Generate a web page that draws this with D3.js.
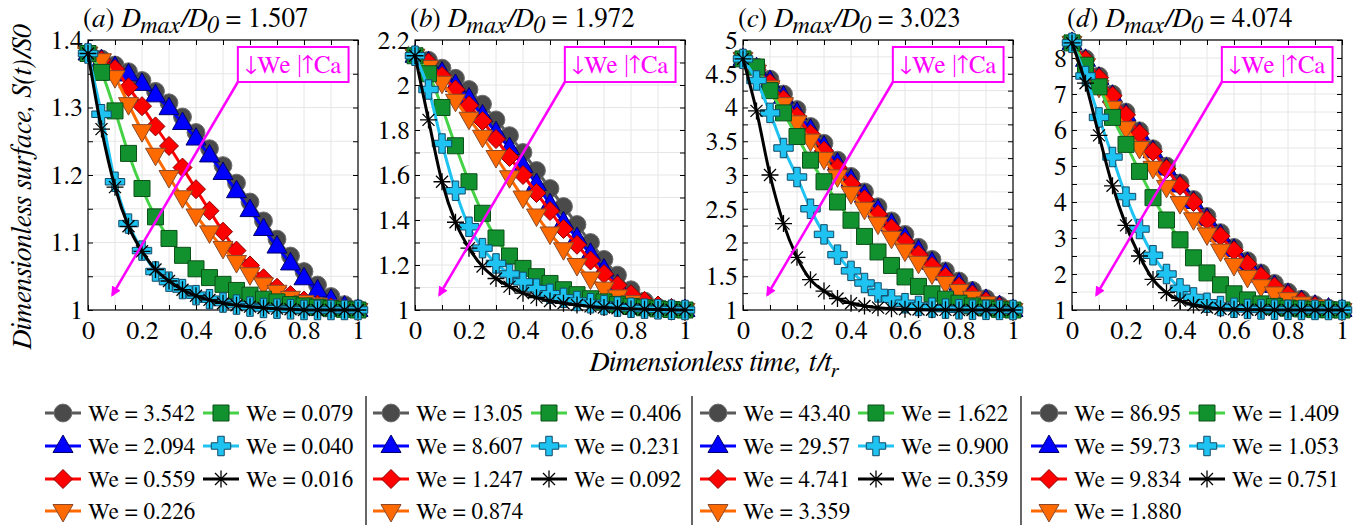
<!doctype html>
<html lang="en">
<head>
  <meta charset="utf-8">
  <title>Dimensionless surface vs time - D3</title>
  <style>
    html, body { margin: 0; padding: 0; background: #fff; }
    svg { display: block; }
  </style>
</head>
<body>
  <svg></svg>
  <script src="https://cdn.jsdelivr.net/npm/d3@7"></script>
  <script>
    const width = 1363;
    const height = 525;
    const serif = 'FreeSerif, DejaVu Serif, serif';

    // t / tr sample points
    const timeSteps = [0, 0.05, 0.1, 0.15, 0.2, 0.25, 0.3, 0.35, 0.4, 0.45, 0.5,
      0.55, 0.6, 0.65, 0.7, 0.75, 0.8, 0.85, 0.9, 0.95, 1];
    const xTickValues = [0, 0.2, 0.4, 0.6, 0.8, 1];
    const xTickLabels = ['0', '0.2', '0.4', '0.6', '0.8', '1'];

    const panelTags = ['a', 'b', 'c', 'd'];
    const diameterRatios = ['1.507', '1.972', '3.023', '4.074'];

    // y axes
    const yMaxA = 1.4, yMaxB = 2.2, yMaxC = 5, yMaxD = 8.5;
    const yTicksA = [1, 1.1, 1.2, 1.3, 1.4];
    const yTicksB = [1, 1.2, 1.4, 1.6, 1.8, 2, 2.2];
    const yTicksC = [1, 1.5, 2, 2.5, 3, 3.5, 4, 4.5, 5];
    const yTicksD = [1, 2, 3, 4, 5, 6, 7, 8];
    const yLabelsA = ['1', '1.1', '1.2', '1.3', '1.4'];
    const yLabelsB = ['1', '1.2', '1.4', '1.6', '1.8', '2', '2.2'];
    const yLabelsC = ['1', '1.5', '2', '2.5', '3', '3.5', '4', '4.5', '5'];
    const yLabelsD = ['1', '2', '3', '4', '5', '6', '7', '8'];

    // Weber numbers, one per series (order: circle, up-triangle, diamond, down-triangle, square, plus, star)
    const weA = ['3.542', '2.094', '0.559', '0.226', '0.079', '0.040', '0.016'];
    const weB = ['13.05', '8.607', '1.247', '0.874', '0.406', '0.231', '0.092'];
    const weC = ['43.40', '29.57', '4.741', '3.359', '1.622', '0.900', '0.359'];
    const weD = ['86.95', '59.73', '9.834', '1.880', '1.409', '1.053', '0.751'];

    // S(t)/S0, panel (a)
    const aCircle = [1.38, 1.372, 1.363, 1.353, 1.340, 1.324, 1.307, 1.286, 1.263, 1.239, 1.214, 1.188, 1.160, 1.132, 1.105, 1.080, 1.057, 1.037, 1.020, 1.008, 1.002];
    const aTriUp = [1.38, 1.370, 1.360, 1.349, 1.335, 1.318, 1.299, 1.277, 1.254, 1.229, 1.203, 1.176, 1.148, 1.120, 1.094, 1.069, 1.047, 1.029, 1.015, 1.005, 1.000];
    const aDiamond = [1.38, 1.370, 1.357, 1.330, 1.302, 1.272, 1.243, 1.211, 1.179, 1.147, 1.116, 1.088, 1.066, 1.047, 1.033, 1.022, 1.014, 1.008, 1.004, 1.001, 1.000];
    const aTriDown = [1.38, 1.370, 1.345, 1.305, 1.265, 1.230, 1.197, 1.167, 1.140, 1.115, 1.092, 1.071, 1.053, 1.038, 1.027, 1.018, 1.012, 1.008, 1.005, 1.002, 1.000];
    const aSquare = [1.38, 1.352, 1.295, 1.232, 1.180, 1.138, 1.106, 1.081, 1.061, 1.048, 1.038, 1.029, 1.022, 1.016, 1.012, 1.008, 1.006, 1.004, 1.002, 1.001, 1.000];
    const aPlus = [1.38, 1.290, 1.190, 1.128, 1.088, 1.057, 1.042, 1.031, 1.022, 1.016, 1.011, 1.008, 1.005, 1.003, 1.002, 1.001, 1.000, 1.000, 1.000, 1.000, 1.000];
    const aStar = [1.38, 1.268, 1.182, 1.124, 1.087, 1.060, 1.043, 1.030, 1.021, 1.015, 1.010, 1.007, 1.005, 1.003, 1.002, 1.001, 1.000, 1.000, 1.000, 1.000, 1.000];

    // panel (b)
    const bCircle = [2.13, 2.11, 2.075, 2.03, 1.98, 1.915, 1.845, 1.775, 1.70, 1.62, 1.54, 1.46, 1.38, 1.30, 1.225, 1.155, 1.09, 1.04, 1.012, 1.002, 1.0];
    const bTriUp = [2.13, 2.10, 2.055, 2.00, 1.94, 1.865, 1.79, 1.72, 1.64, 1.56, 1.47, 1.39, 1.32, 1.25, 1.18, 1.11, 1.06, 1.025, 1.008, 1.002, 1.0];
    const bDiamond = [2.13, 2.10, 2.04, 1.98, 1.91, 1.84, 1.76, 1.68, 1.60, 1.52, 1.44, 1.36, 1.29, 1.22, 1.16, 1.11, 1.07, 1.04, 1.02, 1.008, 1.0];
    const bTriDown = [2.13, 2.08, 2.01, 1.93, 1.85, 1.77, 1.68, 1.59, 1.50, 1.42, 1.34, 1.27, 1.20, 1.14, 1.095, 1.06, 1.035, 1.018, 1.008, 1.003, 1.0];
    const bSquare = [2.13, 2.05, 1.90, 1.73, 1.57, 1.43, 1.32, 1.24, 1.185, 1.148, 1.118, 1.09, 1.068, 1.05, 1.036, 1.025, 1.016, 1.01, 1.005, 1.002, 1.0];
    const bPlus = [2.13, 1.98, 1.74, 1.53, 1.37, 1.275, 1.207, 1.16, 1.125, 1.095, 1.072, 1.054, 1.04, 1.03, 1.022, 1.015, 1.01, 1.006, 1.003, 1.001, 1.0];
    const bStar = [2.13, 1.845, 1.57, 1.39, 1.275, 1.193, 1.14, 1.104, 1.075, 1.055, 1.04, 1.03, 1.022, 1.016, 1.011, 1.008, 1.005, 1.003, 1.002, 1.001, 1.0];

    // panel (c)
    const cCircle = [4.72, 4.60, 4.42, 4.20, 3.97, 3.72, 3.47, 3.22, 2.98, 2.75, 2.53, 2.32, 2.12, 1.93, 1.75, 1.58, 1.43, 1.29, 1.17, 1.07, 1.0];
    const cTriUp = [4.72, 4.58, 4.39, 4.16, 3.92, 3.67, 3.42, 3.17, 2.93, 2.70, 2.48, 2.27, 2.07, 1.88, 1.70, 1.54, 1.39, 1.26, 1.15, 1.06, 1.0];
    const cDiamond = [4.72, 4.56, 4.36, 4.12, 3.87, 3.61, 3.36, 3.11, 2.87, 2.64, 2.42, 2.21, 2.01, 1.82, 1.65, 1.49, 1.35, 1.23, 1.13, 1.05, 1.0];
    const cTriDown = [4.72, 4.53, 4.30, 4.05, 3.78, 3.51, 3.24, 2.98, 2.73, 2.50, 2.28, 2.07, 1.88, 1.70, 1.54, 1.40, 1.28, 1.18, 1.10, 1.04, 1.0];
    const cSquare = [4.72, 4.60, 4.25, 3.92, 3.57, 3.22, 2.90, 2.60, 2.33, 2.09, 1.86, 1.66, 1.49, 1.35, 1.24, 1.16, 1.10, 1.06, 1.03, 1.01, 1.0];
    const cPlus = [4.72, 4.40, 3.92, 3.40, 2.97, 2.50, 2.12, 1.82, 1.58, 1.40, 1.26, 1.16, 1.10, 1.06, 1.035, 1.02, 1.01, 1.005, 1.002, 1.001, 1.0];
    const cStar = [4.72, 3.95, 3.00, 2.28, 1.78, 1.45, 1.28, 1.17, 1.10, 1.06, 1.035, 1.02, 1.012, 1.007, 1.004, 1.002, 1.001, 1.0, 1.0, 1.0, 1.0];

    // panel (d)
    const dCircle = [8.42, 7.98, 7.50, 7.00, 6.50, 5.98, 5.48, 5.00, 4.53, 4.07, 3.60, 3.15, 2.74, 2.37, 2.03, 1.74, 1.50, 1.30, 1.15, 1.05, 1.0];
    const dTriUp = [8.42, 7.95, 7.45, 6.95, 6.43, 5.91, 5.41, 4.93, 4.46, 4.00, 3.53, 3.08, 2.67, 2.30, 1.96, 1.67, 1.44, 1.25, 1.12, 1.04, 1.0];
    const dDiamond = [8.42, 7.95, 7.45, 6.95, 6.42, 5.90, 5.40, 4.92, 4.45, 4.00, 3.50, 3.05, 2.65, 2.28, 1.94, 1.65, 1.42, 1.24, 1.11, 1.03, 1.0];
    const dTriDown = [8.42, 7.80, 7.20, 6.62, 6.05, 5.50, 4.95, 4.42, 3.97, 3.52, 3.10, 2.65, 2.25, 1.92, 1.66, 1.46, 1.30, 1.18, 1.10, 1.04, 1.0];
    const dSquare = [8.42, 7.80, 7.20, 6.35, 5.60, 4.85, 4.12, 3.50, 2.95, 2.45, 2.03, 1.70, 1.45, 1.28, 1.17, 1.10, 1.05, 1.03, 1.01, 1.005, 1.0];
    const dPlus = [8.42, 7.50, 6.35, 5.25, 4.15, 3.25, 2.52, 2.00, 1.60, 1.35, 1.20, 1.11, 1.06, 1.03, 1.015, 1.008, 1.004, 1.002, 1.001, 1.0, 1.0];
    const dStar = [8.42, 7.30, 5.85, 4.45, 3.35, 2.50, 1.85, 1.48, 1.26, 1.14, 1.07, 1.035, 1.018, 1.009, 1.005, 1.002, 1.001, 1.0, 1.0, 1.0, 1.0];

    // marker / line styles for the 7 series
    const styles = [
      { shape: 'circle', line: '#5a5a5a', fill: '#4a4a4a', stroke: '#6e6e6e' },
      { shape: 'triUp', line: '#0000ff', fill: '#0000ff', stroke: '#00006a' },
      { shape: 'diamond', line: '#ff0000', fill: '#ff0000', stroke: '#8a0000' },
      { shape: 'triDown', line: '#ff6a00', fill: '#ff6a00', stroke: '#8a4a2a' },
      { shape: 'square', line: '#46d246', fill: '#12922e', stroke: '#0b4f19' },
      { shape: 'plus', line: '#1ec3f2', fill: '#1ec3f2', stroke: '#124a66' },
      { shape: 'star', line: '#000000', fill: 'none', stroke: '#000000' }
    ];

    const panels = [
      { yMax: yMaxA, ticks: yTicksA, labels: yLabelsA, minor: 0.05, we: weA, series: [aCircle, aTriUp, aDiamond, aTriDown, aSquare, aPlus, aStar] },
      { yMax: yMaxB, ticks: yTicksB, labels: yLabelsB, minor: 0.1, we: weB, series: [bCircle, bTriUp, bDiamond, bTriDown, bSquare, bPlus, bStar] },
      { yMax: yMaxC, ticks: yTicksC, labels: yLabelsC, minor: 0.25, we: weC, series: [cCircle, cTriUp, cDiamond, cTriDown, cSquare, cPlus, cStar] },
      { yMax: yMaxD, ticks: yTicksD, labels: yLabelsD, minor: 0.5, we: weD, series: [dCircle, dTriUp, dDiamond, dTriDown, dSquare, dPlus, dStar] }
    ];

    const panelLeft = [88, 415, 743, 1072];
    const panelW = 270;
    const panelTop = 40;
    const panelBottom = 310;

    const svg = d3.select('svg')
      .attr('width', width)
      .attr('height', height)
      .attr('viewBox', [0, 0, width, height])
      .attr('font-family', serif);

    const defs = svg.append('defs');
    defs.append('marker')
      .attr('id', 'arrowHead')
      .attr('viewBox', '0 0 10 10')
      .attr('refX', 8).attr('refY', 5)
      .attr('markerWidth', 4).attr('markerHeight', 4)
      .attr('orient', 'auto')
      .append('path')
      .attr('d', 'M0,0 L10,5 L0,10 Z')
      .attr('fill', '#ff00ff');

    // marker path by shape name
    function shapePath(shape) {
      switch (shape) {
        case 'circle': return d3.symbol(d3.symbolCircle, 250)();
        case 'triUp': return 'M0,-11L10,6.5L-10,6.5Z';
        case 'triDown': return 'M0,11L10,-6.5L-10,-6.5Z';
        case 'diamond': return 'M0,-9.5L9.5,0L0,9.5L-9.5,0Z';
        case 'square': return 'M-8,-8H8V8H-8Z';
        case 'plus': return d3.symbol(d3.symbolCross, 210)();
        case 'star': return 'M0,-8.5V8.5M-8.5,0H8.5M-6,-6L6,6M-6,6L6,-6';
      }
    }

    function drawMarkers(g, pts, st) {
      g.selectAll(null)
        .data(pts)
        .enter()
        .append('path')
        .attr('transform', d => 'translate(' + d[0] + ',' + d[1] + ')')
        .attr('d', shapePath(st.shape))
        .attr('fill', st.fill)
        .attr('stroke', st.stroke)
        .attr('stroke-width', st.shape === 'star' ? 1.3 : 1);
    }

    function drawPanel(p, i) {
      const x0 = panelLeft[i];
      const x = d3.scaleLinear().domain([0, 1]).range([x0, x0 + panelW]);
      const y = d3.scaleLinear().domain([1, p.yMax]).range([panelBottom, panelTop]);

      const g = svg.append('g');

      // grid
      const xMinor = d3.range(0, 1.0001, 0.1);
      const yMinor = d3.range(1, p.yMax + 1e-6, p.minor);
      g.append('g').selectAll('line')
        .data(xMinor.slice(1, -1))
        .enter().append('line')
        .attr('x1', d => x(d)).attr('x2', d => x(d))
        .attr('y1', panelTop).attr('y2', panelBottom)
        .attr('stroke', '#e6e6e6').attr('stroke-width', 1);
      g.append('g').selectAll('line')
        .data(yMinor.slice(1))
        .enter().append('line')
        .attr('x1', x0).attr('x2', x0 + panelW)
        .attr('y1', d => y(d)).attr('y2', d => y(d))
        .attr('stroke', '#e6e6e6').attr('stroke-width', 1);

      // axes with inward ticks on all four sides
      const xLab = new Map(xTickValues.map((v, k) => [v.toFixed(2), xTickLabels[k]]));
      const yLab = new Map(p.ticks.map((v, k) => [v.toFixed(2), p.labels[k]]));

      g.append('g')
        .attr('transform', 'translate(0,' + panelBottom + ')')
        .call(d3.axisBottom(x).tickValues(xMinor).tickSize(-5).tickPadding(11)
          .tickFormat(v => xLab.get(v.toFixed(2)) || ''))
        .attr('font-family', serif).attr('font-size', 26)
        .call(a => a.select('.domain').remove())
        .call(a => a.selectAll('text').attr('fill', '#000'));
      g.append('g')
        .attr('transform', 'translate(0,' + panelTop + ')')
        .call(d3.axisTop(x).tickValues(xMinor).tickSize(-5).tickFormat(''))
        .call(a => a.select('.domain').remove());
      g.append('g')
        .attr('transform', 'translate(' + x0 + ',0)')
        .call(d3.axisLeft(y).tickValues(yMinor).tickSize(-5).tickPadding(5)
          .tickFormat(v => yLab.get(v.toFixed(2)) || ''))
        .attr('font-family', serif).attr('font-size', 26)
        .call(a => a.select('.domain').remove())
        .call(a => a.selectAll('text').attr('fill', '#000'));
      g.append('g')
        .attr('transform', 'translate(' + (x0 + panelW) + ',0)')
        .call(d3.axisRight(y).tickValues(yMinor).tickSize(-5).tickFormat(''))
        .call(a => a.select('.domain').remove());

      g.append('rect')
        .attr('x', x0).attr('y', panelTop)
        .attr('width', panelW).attr('height', panelBottom - panelTop)
        .attr('fill', 'none').attr('stroke', '#000').attr('stroke-width', 1.2);

      // title
      const title = g.append('text')
        .attr('x', x0 - 5).attr('y', 27)
        .attr('font-size', 27);
      title.append('tspan').text('(');
      title.append('tspan').attr('font-style', 'italic').text(panelTags[i]);
      title.append('tspan').text(') ');
      title.append('tspan').attr('font-style', 'italic').text('D');
      title.append('tspan').attr('font-style', 'italic').attr('font-size', 24).attr('dy', 6).text('max');
      title.append('tspan').attr('font-style', 'italic').attr('dy', -6).text('/D');
      title.append('tspan').attr('font-style', 'italic').attr('font-size', 24).attr('dy', 6).text('0');
      title.append('tspan').attr('dy', -6).text(' = ' + diameterRatios[i]);

      // series: line then markers
      const line = d3.line().x(d => d[0]).y(d => d[1]).curve(d3.curveMonotoneX);
      p.series.forEach((vals, k) => {
        const st = styles[k];
        const pts = vals.map((v, j) => [x(timeSteps[j]), y(v)]);
        g.append('path')
          .attr('d', line(pts))
          .attr('fill', 'none')
          .attr('stroke', st.line)
          .attr('stroke-width', 3);
        drawMarkers(g.append('g'), pts, st);
      });

      // annotation box and arrow
      const bx = x(0.555), bw = x(0.965) - x(0.555), by = 47, bh = 35;
      g.append('line')
        .attr('x1', bx).attr('y1', by + bh)
        .attr('x2', x(0.09)).attr('y2', panelBottom - 15)
        .attr('stroke', '#ff00ff').attr('stroke-width', 2.5)
        .attr('marker-end', 'url(#arrowHead)');
      g.append('rect')
        .attr('x', bx).attr('y', by).attr('width', bw).attr('height', bh)
        .attr('fill', '#fff').attr('stroke', '#ff00ff').attr('stroke-width', 2);
      g.append('text')
        .attr('x', bx + bw / 2).attr('y', by + bh / 2)
        .attr('dy', '0.35em')
        .attr('text-anchor', 'middle')
        .attr('font-size', 25)
        .attr('fill', '#ff00ff')
        .text('\u2193We |\u2191Ca');
    }

    panels.forEach(drawPanel);

    // axis titles
    svg.append('text')
      .attr('transform', 'translate(31,187) rotate(-90)')
      .attr('text-anchor', 'middle')
      .attr('font-size', 28)
      .attr('font-style', 'italic')
      .text('Dimensionless surface, S(t)/S0');

    const xTitle = svg.append('text')
      .attr('x', 714).attr('y', 371)
      .attr('text-anchor', 'middle')
      .attr('font-size', 28)
      .attr('font-style', 'italic');
    xTitle.append('tspan').text('Dimensionless time, t/t');
    xTitle.append('tspan').attr('font-size', 21).attr('dy', 6).text('r');

    // legend: one block per panel, two columns
    const legendLeft = [45, 373, 700, 1031];
    const rowY = [413, 446, 479, 511];
    const colPos = [[0, 0], [0, 1], [0, 2], [0, 3], [158, 0], [158, 1], [158, 2]];

    panels.forEach((p, i) => {
      const lg = svg.append('g');
      p.we.forEach((we, k) => {
        const st = styles[k];
        const lx = legendLeft[i] + colPos[k][0];
        const ly = rowY[colPos[k][1]];
        lg.append('line')
          .attr('x1', lx).attr('x2', lx + 36)
          .attr('y1', ly).attr('y2', ly)
          .attr('stroke', st.line).attr('stroke-width', 3);
        drawMarkers(lg.append('g'), [[lx + 18, ly]], st);
        lg.append('text')
          .attr('x', lx + 43).attr('y', ly)
          .attr('dy', '0.35em')
          .attr('font-size', 23)
          .text('We = ' + we);
      });
    });

    // separators between legend blocks
    svg.append('g').selectAll('line')
      .data([366, 692, 1021])
      .enter().append('line')
      .attr('x1', d => d).attr('x2', d => d)
      .attr('y1', 396).attr('y2', 525)
      .attr('stroke', '#000').attr('stroke-width', 1.2);
  </script>
</body>
</html>
